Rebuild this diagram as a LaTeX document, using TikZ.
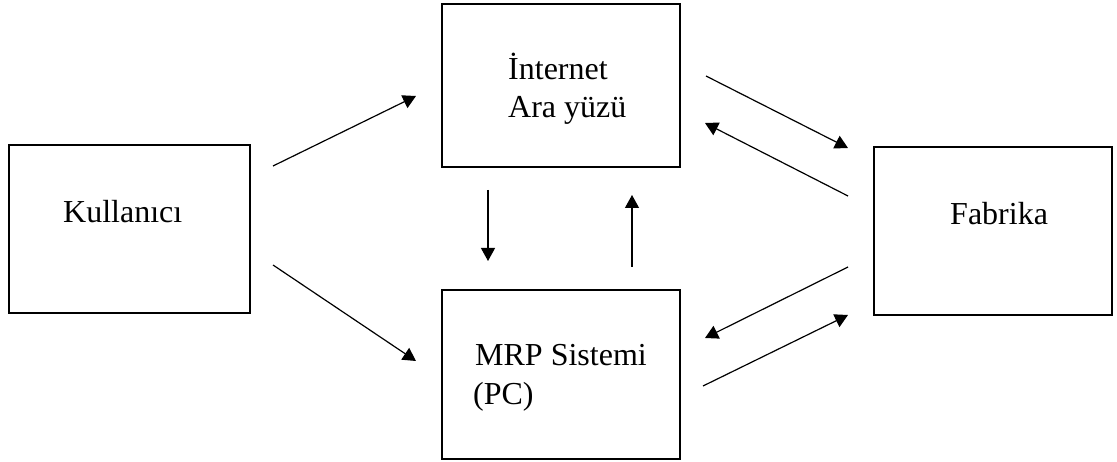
\documentclass[tikz,border=0pt]{standalone}
\usepackage{fontspec}
\setmainfont{Liberation Serif}
\usetikzlibrary{arrows.meta}
\begin{document}
\begin{tikzpicture}[x=1pt,y=-1pt,
  box/.style={draw, line width=1.4pt, inner sep=0pt, minimum width=#1},
  lbl/.style={anchor=base west, inner sep=0pt, font=\fontsize{32}{38}\selectfont},
  flow/.style={line width=1.2pt, -{Triangle[length=13pt,width=14pt]}}]
\useasboundingbox (0,0) rectangle (1117,462);
% boxes
\node[box=241pt, minimum height=168pt] (kul) at (129.5,229) {};
\node[box=238pt, minimum height=163pt] (int) at (561,85.5) {};
\node[box=238pt, minimum height=169pt] (mrp) at (561,374.5) {};
\node[box=238pt, minimum height=168pt] (fab) at (993,231) {};
% labels
\node[lbl] (kult) at (63,223) {Kullanıcı};
\node[lbl] (intt1) at (508,80) {İnternet};
\node[lbl] (intt2) at (508,118) {Ara yüzü};
\node[lbl] (mrpt1) at (475,366) {MRP Sistemi};
\node[lbl] (mrpt2) at (473,405) {(PC)};
\node[lbl] (fabt) at (950,225) {Fabrika};
% arrow end points
\coordinate (a1s) at (273,166); \coordinate (a1e) at (416,96);
\coordinate (a2s) at (273,265); \coordinate (a2e) at (416,361);
\coordinate (a3s) at (488,190); \coordinate (a3e) at (488,261);
\coordinate (a4s) at (632,267); \coordinate (a4e) at (632,195);
\coordinate (a5s) at (706,76);  \coordinate (a5e) at (848,148);
\coordinate (a6s) at (848,196); \coordinate (a6e) at (705,123);
\coordinate (a7s) at (848,267); \coordinate (a7e) at (705,338);
\coordinate (a8s) at (703,386); \coordinate (a8e) at (848,315);
% flows
\draw[flow] (a1s) -- (a1e);
\draw[flow] (a2s) -- (a2e);
\draw[flow] (a3s) -- (a3e);
\draw[flow] (a4s) -- (a4e);
\draw[flow] (a5s) -- (a5e);
\draw[flow] (a6s) -- (a6e);
\draw[flow] (a7s) -- (a7e);
\draw[flow] (a8s) -- (a8e);
\end{tikzpicture}
\end{document}
